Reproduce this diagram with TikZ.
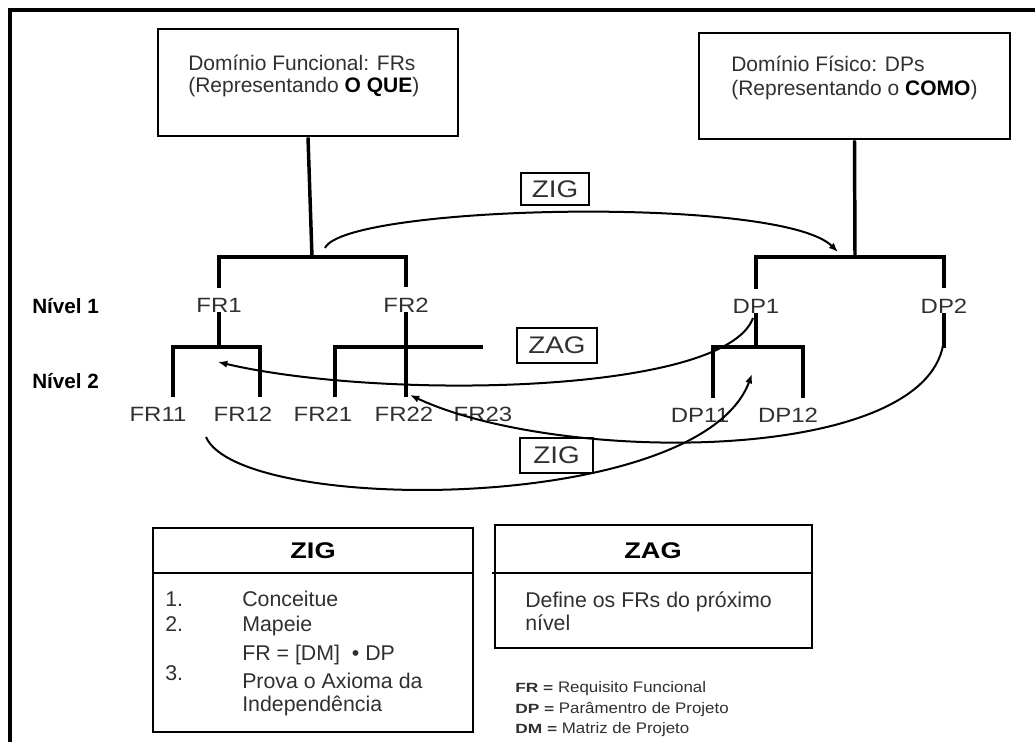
\documentclass[tikz,border=0pt]{standalone}
\usepackage{fontspec}
\setmainfont{Liberation Sans}
\newfontfamily\widefont[FakeStretch=1.16]{Liberation Sans}
\newfontfamily\legfont[FakeStretch=1.1]{Liberation Sans}
\newfontfamily\legkey[FakeStretch=1.3]{Liberation Sans}
\newfontfamily\hdrfont[FakeStretch=1.2]{Liberation Sans}
\usetikzlibrary{fit,arrows.meta}
\definecolor{txt}{HTML}{303030}
\begin{document}
\begin{tikzpicture}[x=0.75pt,y=-0.75pt,
  frame/.style={line width=2.4pt},
  box/.style={draw, line width=2.2pt, inner sep=0pt},
  divline/.style={line width=2.2pt},
  tree/.style={line width=2.6pt},
  curve/.style={line width=1.5pt, -{Latex[length=7pt,width=5.5pt]}},
  lbl/.style={inner sep=0pt, text=txt, anchor=base, font=\widefont\fontsize{15.5}{18}\selectfont},
  dtext/.style={inner sep=0pt, text=txt, anchor=base west, font=\fontsize{15.75}{18}\selectfont},
  btext/.style={inner sep=0pt, text=txt, anchor=base west, font=\fontsize{16}{18}\selectfont},
  nivel/.style={inner sep=0pt, anchor=base west, font=\bfseries\fontsize{15.5}{18}\selectfont},
  sbox/.style={draw, line width=2.2pt, inner sep=0pt, text=txt, font=\widefont\fontsize{18}{20}\selectfont},
  hdr/.style={inner sep=0pt, anchor=base, font=\hdrfont\bfseries\fontsize{17}{20}\selectfont},
  leg/.style={inner sep=0pt, text=txt, anchor=base west, font=\legfont\fontsize{11.5}{13}\selectfont},
]
\useasboundingbox (0,0) rectangle (1035,742);

% outer frame
\coordinate (fa) at (1035,10);
\coordinate (fb) at (10,10);
\coordinate (fc) at (10,742);
\draw[frame] (fa) -- (fb) -- (fc);

% domain boxes
\node[box, fit={(158,29) (458,136)}] (fd) {};
\node[dtext] (fdt1) at (188,70) {Domínio Funcional: FRs};
\node[dtext] (fdt2) at (188,93) {(Representando {\color{black}\bfseries O QUE})};
\node[box, fit={(699,33) (1010,139)}] (dd) {};
\node[dtext] (ddt1) at (731,72) {Domínio Físico: DPs};
\node[dtext] (ddt2) at (731,96) {(Representando o {\color{black}\bfseries COMO})};

% level labels
\node[nivel] (n1) at (32,313) {Nível 1};
\node[nivel] (n2) at (32,388) {Nível 2};

% FR labels
\node[lbl] (fr1) at (219,312) {FR1};
\node[lbl] (fr2) at (406,312) {FR2};
\node[lbl] (fr11) at (158,421) {FR11};
\node[lbl] (fr12) at (243,421) {FR12};
\node[lbl] (fr21) at (323,421) {FR21};
\node[lbl] (fr22) at (404,421) {FR22};
\node[lbl] (fr23) at (483,421) {FR23};
% DP labels
\node[lbl] (dp1) at (756,313) {DP1};
\node[lbl] (dp2) at (944,313) {DP2};
\node[lbl] (dp11) at (700,422) {DP11};
\node[lbl] (dp12) at (788,422) {DP12};

% FR tree
\coordinate (jf) at (312,257);
\draw[tree] (fd.south) -- (jf);
\draw[tree, shorten <=7.5pt, shorten >=7.5pt] (fr1.north) |- (jf) -| (fr2.north);
\coordinate (j1) at (219,347);
\draw[tree] (fr1.south) -- (j1);
\draw[tree, shorten <=7pt, shorten >=7pt] ([xshift=11.25pt]fr11.north) |- (j1) -| ([xshift=12.75pt]fr12.north);
\draw[tree, shorten >=7pt] (fr2.south) -- (fr2.south |- fr22.north);
\coordinate (e23) at (483,347);
\draw[tree, shorten <=7pt] ([xshift=9pt]fr21.north) |- (e23);

% DP tree
\coordinate (jd) at (855,257);
\draw[tree] (dd.south) -- (jd);
\draw[tree, shorten <=7.5pt, shorten >=7.5pt] (dp1.north) |- (jd) -| (dp2.north);
\coordinate (jd1) at (756,347);
\draw[tree] (dp1.south) -- (jd1);
\draw[tree, shorten <=7pt, shorten >=7pt] ([xshift=9.75pt]dp11.north) |- (jd1) -| ([xshift=11.25pt]dp12.north);
\coordinate (jd2) at (944,348);
\draw[tree] (dp2.south) -- (jd2);

% small ZIG / ZAG boxes
\node[sbox, minimum width=51pt, minimum height=24pt] (zigA) at (555,189) {ZIG};
\node[sbox, minimum width=60pt, minimum height=26.25pt] (zagA) at (557,345.5) {ZAG};
\node[sbox, minimum width=54.75pt, minimum height=26.25pt] (zigB) at (556.5,455.5) {ZIG};

% curved arrows
\coordinate (c1s) at (325,248);
\coordinate (c1e) at (838,252);
\draw[curve] (c1s) .. controls (345,205) and (780,195) .. (c1e);
\coordinate (c2s) at (753,318);
\coordinate (c2e) at (218,362);
\draw[curve] (c2s) .. controls (725,395) and (380,400) .. (c2e);
\coordinate (c3s) at (944,338);
\coordinate (c3e) at (410,395);
\draw[curve] (c3s) .. controls (935,465) and (560,465) .. (c3e);
\coordinate (c4s) at (206,437);
\coordinate (c4e) at (752,374);
\draw[curve] (c4s) .. controls (240,515) and (700,515) .. (c4e);

% bottom ZIG box
\node[box, fit={(153,528) (473,732)}] (zigbox) {};
\coordinate (zh) at (313,573);
\draw[divline] (zigbox.west |- zh) -- (zigbox.east |- zh);
\node[hdr] (zigh) at (313,558) {ZIG};
\node[btext] (i1) at (165,606) {1.};
\node[btext] (t1) at (242,606) {Conceitue};
\node[btext] (i2) at (165,631) {2.};
\node[btext] (t2) at (242,631) {Mapeie};
\node[btext] (t2b) at (242,660) {FR = [DM] \ • DP};
\node[btext] (i3) at (165,680) {3.};
\node[btext] (t3) at (242,688) {Prova o Axioma da};
\node[btext] (t3b) at (242,711) {Independência};

% bottom ZAG box
\node[box, fit={(495,525) (812,648)}] (zagbox) {};
\coordinate (zh2a) at (492,573);
\coordinate (zh2b) at (812,573);
\draw[divline] (zh2a) -- (zh2b);
\node[hdr] (zagh) at (653,558) {ZAG};
\node[btext] (z1) at (525,607) {Define os FRs do próximo};
\node[btext] (z2) at (525,630) {nível};

% legend
\node[leg] (l1) at (515,692) {{\legkey\bfseries\fontsize{10}{12}\selectfont FR =} Requisito Funcional};
\node[leg] (l2) at (515,713) {{\legkey\bfseries\fontsize{10}{12}\selectfont DP =} Parâmentro de Projeto};
\node[leg] (l3) at (515,733) {{\legkey\bfseries\fontsize{10}{12}\selectfont DM =} Matriz de Projeto};
\end{tikzpicture}
\end{document}
